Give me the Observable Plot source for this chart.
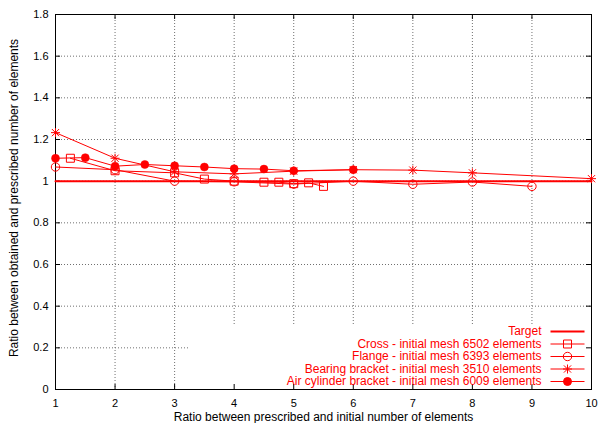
<!DOCTYPE html>
<html>
<head>
<meta charset="utf-8">
<script src="https://cdn.jsdelivr.net/npm/d3@7"></script>
<script src="https://cdn.jsdelivr.net/npm/@observablehq/plot@0.6"></script>
<style>
  html, body { margin: 0; padding: 0; background: #fff; }
</style>
</head>
<body>
<div id="chart"></div>
<script>
// ---- data ----
const crossX = [1.25, 2, 3, 3.5, 4, 4.5, 4.75, 5, 5.25, 5.5];
const crossY = [1.11, 1.05, 1.04, 1.01, 1.0, 0.995, 0.995, 0.988, 0.992, 0.975];

const flangeX = [1, 2, 3, 4, 5, 6, 7, 8, 9];
const flangeY = [1.068, 1.055, 1.0, 0.997, 0.986, 1.0, 0.985, 0.996, 0.975];

const bearingX = [1, 2, 3, 4, 5, 6, 7, 8, 10];
const bearingY = [1.233, 1.11, 1.045, 1.035, 1.048, 1.055, 1.053, 1.04, 1.012];

const airX = [1, 1.5, 2, 2.5, 3, 3.5, 4, 4.5, 5, 6];
const airY = [1.11, 1.113, 1.072, 1.08, 1.074, 1.068, 1.06, 1.058, 1.05, 1.055];

const targetX = [1, 10];
const targetValue = 1;

const xTicks = [1, 2, 3, 4, 5, 6, 7, 8, 9, 10];
const xTickLabels = ["1", "2", "3", "4", "5", "6", "7", "8", "9", "10"];
const yTicks = [0, 0.2, 0.4, 0.6, 0.8, 1, 1.2, 1.4, 1.6, 1.8];
const yTickLabels = ["0", "0.2", "0.4", "0.6", "0.8", "1", "1.2", "1.4", "1.6", "1.8"];

const seriesNames = [
  "Target",
  "Cross - initial mesh 6502 elements",
  "Flange - initial mesh 6393 elements",
  "Bearing bracket - initial mesh 3510 elements",
  "Air cylinder bracket - initial mesh 6009 elements"
];
const xLabel = "Ratio between prescribed and initial number of elements";
const yLabel = "Ratio between obtained and prescribed number of elements";

// ---- layout ----
const W = 598, H = 423;
const mL = 55, mR = 7, mT = 14, mB = 34;
const fw = W - mL - mR, fh = H - mT - mB;
const RED = "#ff0000";
const FONT = "'Liberation Sans', Arial, Helvetica, sans-serif";

const pts = (xs, ys) => xs.map((x, i) => ({x, y: ys[i]}));
const cross = pts(crossX, crossY);
const flange = pts(flangeX, flangeY);
const bearing = pts(bearingX, bearingY);
const air = pts(airX, airY);
const target = targetX.map(x => ({x, y: targetValue}));

// custom symbols
const starSym = {draw(ctx) {
  const r = 4.5, d = 3.6;
  ctx.moveTo(-r, 0); ctx.lineTo(r, 0);
  ctx.moveTo(0, -r); ctx.lineTo(0, r);
  ctx.moveTo(-d, -d); ctx.lineTo(d, d);
  ctx.moveTo(-d, d); ctx.lineTo(d, -d);
}};
const lineSym = {draw(ctx) { ctx.moveTo(-17, 0); ctx.lineTo(17, 0); }};

const grid = {stroke: "#707070", strokeDasharray: "1,2", strokeWidth: 1, strokeOpacity: 1};
const legendTopPx = 64;   // legend box height (occludes grid)
const legendLeftPx = 403; // legend box width from right frame edge

// legend
const legendMarks = [];
const n = seriesNames.length;
const symbols = [null, "square", "circle", starSym, "circle"];
const fills = ["none", "none", "none", "none", RED];
const rs = [0, 4.5, 4.2, 4.5, 4.0];
seriesNames.forEach((name, i) => {
  const dy = -8 - (n - 1 - i) * 12.5;
  legendMarks.push(Plot.text([name], {
    frameAnchor: "bottom-right", text: d => d, dx: -50, dy,
    textAnchor: "end", lineAnchor: "middle", fill: RED, fontSize: 12
  }));
  legendMarks.push(Plot.dot([name], {
    frameAnchor: "bottom-right", dx: -24, dy, symbol: lineSym,
    stroke: RED, strokeWidth: i === 0 ? 2 : 1, fill: "none"
  }));
  if (symbols[i]) {
    legendMarks.push(Plot.dot([name], {
      frameAnchor: "bottom-right", dx: -24, dy, symbol: symbols[i], r: rs[i],
      stroke: RED, strokeWidth: 1, fill: fills[i]
    }));
  }
});

const inner = xTicks.slice(1, -1);
const innerY = yTicks.slice(1, -1);

const chart = Plot.plot({
  width: W, height: H,
  marginLeft: mL, marginRight: mR, marginTop: mT, marginBottom: mB,
  style: {fontFamily: FONT, fontSize: "11px", background: "#fff", color: "#000"},
  x: {domain: [1, 10], label: null},
  y: {domain: [0, 1.8], label: null},
  marks: [
    // grid
    Plot.tickX(inner.filter(d => d <= 3), {x: d => d, ...grid}),
    Plot.tickX(inner.filter(d => d > 3), {x: d => d, insetBottom: legendTopPx, ...grid}),
    Plot.tickY(innerY.filter(d => Math.abs(d - 0.2) < 1e-9), {y: d => d, insetRight: legendLeftPx, ...grid}),
    Plot.tickY(innerY.filter(d => Math.abs(d - 0.2) > 1e-9), {y: d => d, ...grid}),
    // inward ticks on all four sides
    Plot.tickX(inner, {x: d => d, insetTop: fh - 5, stroke: "#000"}),
    Plot.tickX(inner, {x: d => d, insetBottom: fh - 5, stroke: "#000"}),
    Plot.tickY(innerY, {y: d => d, insetRight: fw - 5, stroke: "#000"}),
    Plot.tickY(innerY, {y: d => d, insetLeft: fw - 5, stroke: "#000"}),
    Plot.frame({stroke: "#000", strokeWidth: 1}),
    Plot.axisX(xTicks, {tickSize: 0, tickPadding: 10, fontSize: 11,
      tickFormat: d => xTickLabels[xTicks.indexOf(d)], label: null}),
    Plot.axisY(yTicks, {tickSize: 0, tickPadding: 7, fontSize: 11,
      tickFormat: d => yTickLabels[yTicks.indexOf(d)], label: null}),
    // target
    Plot.line(target, {x: "x", y: "y", stroke: RED, strokeWidth: 2}),
    // series lines
    Plot.line(cross, {x: "x", y: "y", stroke: RED, strokeWidth: 1}),
    Plot.line(flange, {x: "x", y: "y", stroke: RED, strokeWidth: 1}),
    Plot.line(bearing, {x: "x", y: "y", stroke: RED, strokeWidth: 1}),
    Plot.line(air, {x: "x", y: "y", stroke: RED, strokeWidth: 1}),
    // markers
    Plot.dot(cross, {x: "x", y: "y", symbol: "square", r: 4.5, stroke: RED, fill: "none", strokeWidth: 1}),
    Plot.dot(flange, {x: "x", y: "y", symbol: "circle", r: 4.2, stroke: RED, fill: "none", strokeWidth: 1}),
    Plot.dot(bearing, {x: "x", y: "y", symbol: starSym, stroke: RED, fill: "none", strokeWidth: 1}),
    Plot.dot(air, {x: "x", y: "y", symbol: "circle", r: 4.0, fill: RED, stroke: RED, strokeWidth: 0.5}),
    // axis labels
    Plot.text([xLabel], {frameAnchor: "bottom", text: d => d, dy: 28, lineAnchor: "middle", fontSize: 12, fill: "#000"}),
    Plot.text([yLabel], {frameAnchor: "left", text: d => d, rotate: -90, dx: -41, dy: -4,
      textAnchor: "middle", lineAnchor: "middle", fontSize: 12, fill: "#000"}),
    ...legendMarks
  ]
});
document.getElementById("chart").appendChild(chart);
</script>
</body>
</html>
